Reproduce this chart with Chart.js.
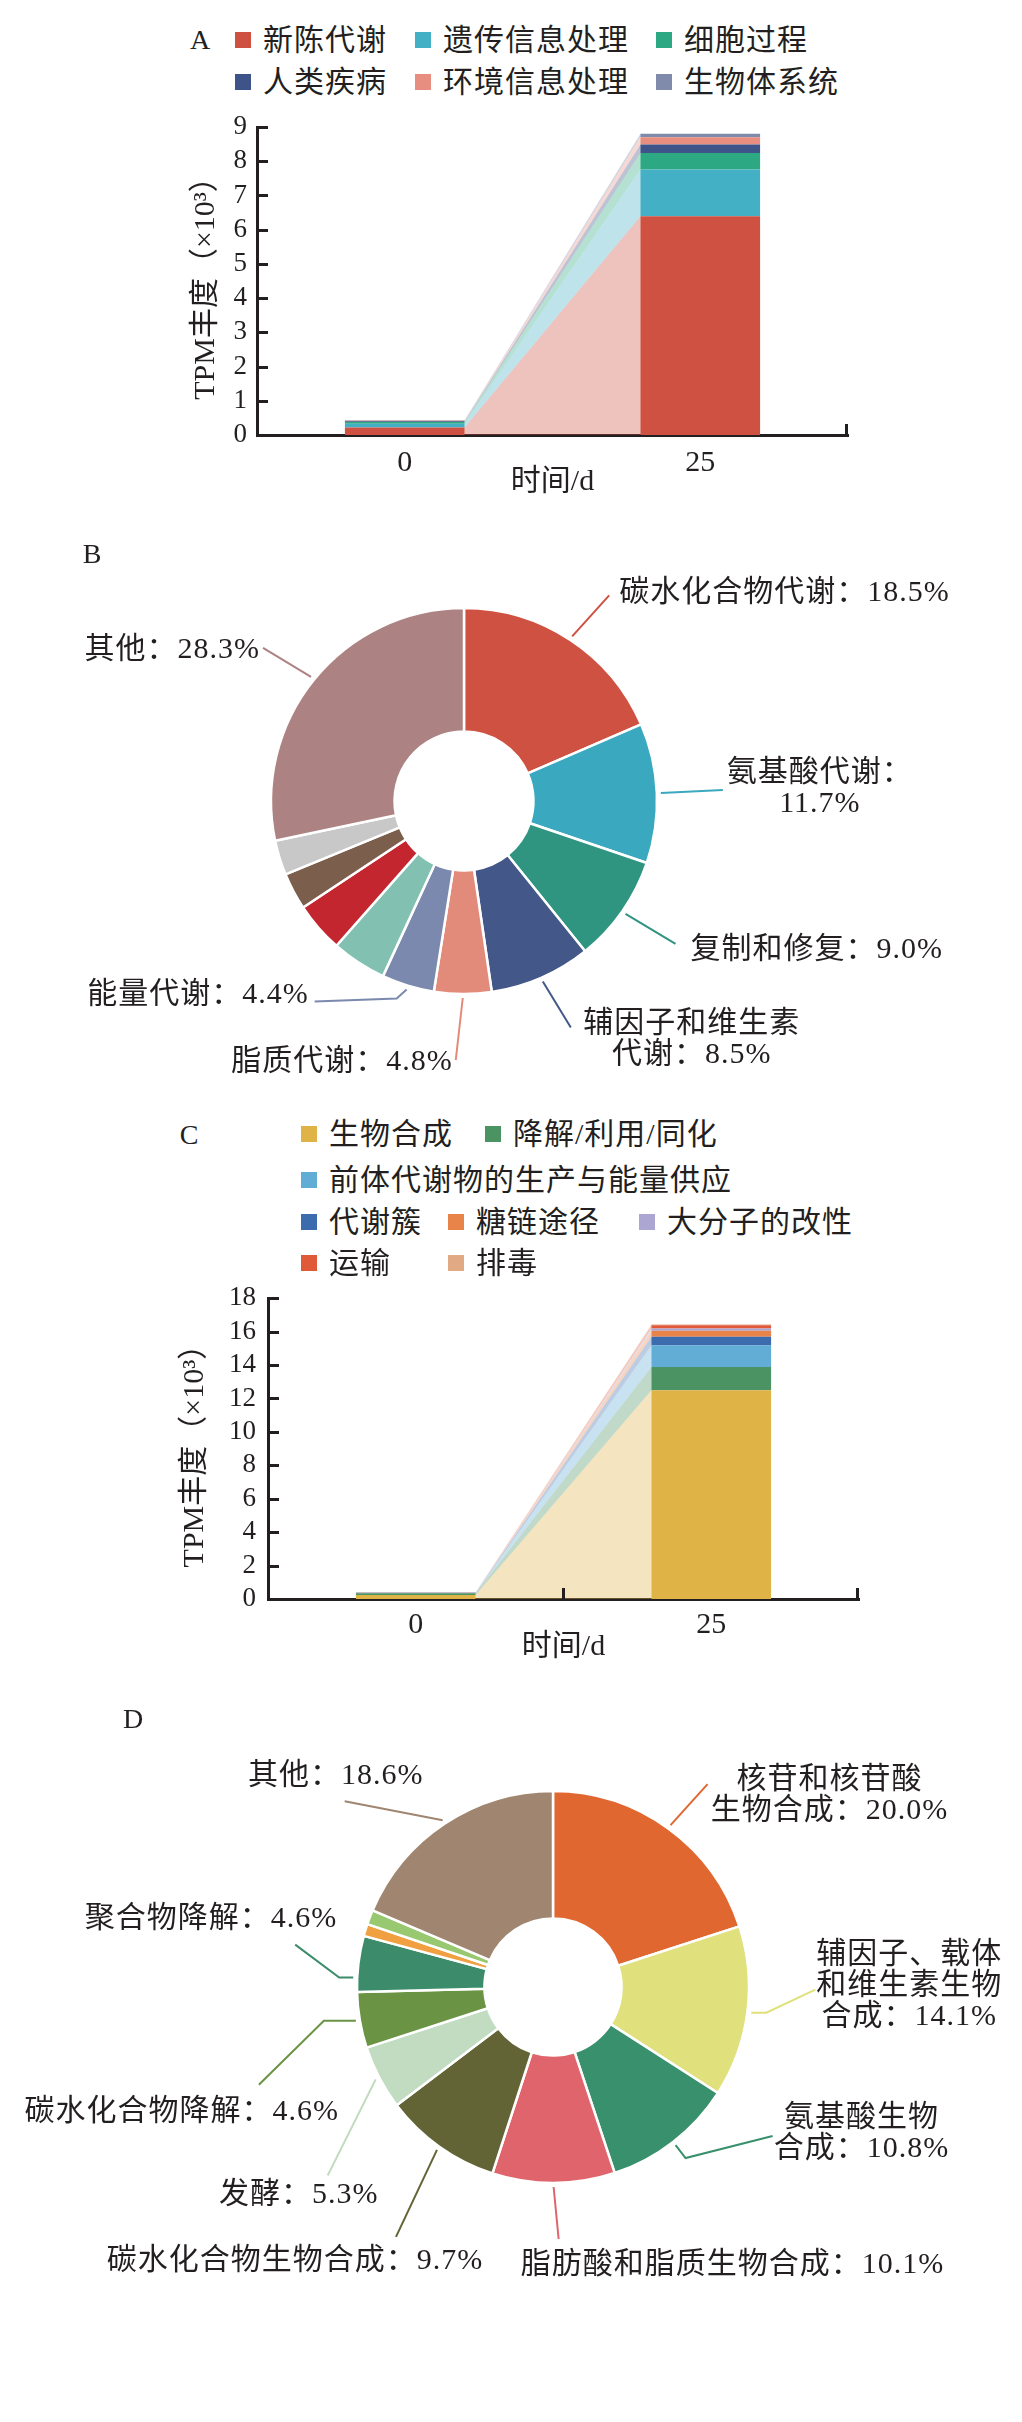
<!DOCTYPE html>
<html>
<head>
<meta charset="utf-8">
<script src="https://cdn.jsdelivr.net/npm/chart.js@4.4.1/dist/chart.umd.min.js"></script>
<style>
  body { margin: 0; background: #fff; }
  #page { position: relative; width: 1022px; height: 2422px; overflow: hidden;
          font-family: "Liberation Serif", "Noto Sans CJK SC", serif; color: #231f20; }
  canvas { position: absolute; left: 0; }
  .tag { position: absolute; font-size: 28px; line-height: 1; transform: translate(-50%, -50%); }
  .key { position: absolute; font-size: 30px; line-height: 1; letter-spacing: 1px; white-space: nowrap;
         transform: translateY(-50%); display: flex; align-items: center; }
  .key i { display: inline-block; width: 16px; height: 16px; margin-right: 12px; }
</style>
</head>
<body>
<div id="page">
  <canvas id="chartA" width="1022" height="420" style="top:100px"></canvas>
  <canvas id="chartB" width="1022" height="560" style="top:540px"></canvas>
  <canvas id="chartC" width="1022" height="410" style="top:1270px"></canvas>
  <canvas id="chartD" width="1022" height="570" style="top:1730px"></canvas>
</div>
<script>
// ---- data ----
const days = ['0', '25'];

// panel A: KEGG level 1, TPM (x10^3)
const namesA = ['新陈代谢', '遗传信息处理', '细胞过程', '人类疾病', '环境信息处理', '生物体系统'];
const metabolismA = [0.22, 6.39];
const geneticA = [0.11, 1.37];
const cellularA = [0.05, 0.48];
const diseaseA = [0.02, 0.25];
const environA = [0.02, 0.21];
const organismA = [0.01, 0.10];
const ticksA = [0, 1, 2, 3, 4, 5, 6, 7, 8, 9];
const colorsA = ['#cf5141', '#44b0c6', '#2ca882', '#3e5488', '#e88e80', '#808aaa'];

// panel B: share of metabolism categories (%)
const namesB = ['碳水化合物代谢', '氨基酸代谢', '复制和修复', '辅因子和维生素代谢', '脂质代谢', '能量代谢',
                '', '', '', '', '其他'];
const valuesB = [18.5, 11.7, 9.0, 8.5, 4.8, 4.4, 4.6, 4.2, 3.1, 2.9, 28.3];
const colorsB = ['#cf5141', '#3aa8bf', '#2f9580', '#435888', '#e38b7b', '#7a89ad',
                 '#82c1b2', '#c4262f', '#7b5f4c', '#c8c8c8', '#ad8282'];

// panel C: MetaCyc level 1, TPM (x10^3)
const namesC = ['生物合成', '降解/利用/同化', '前体代谢物的生产与能量供应', '代谢簇', '糖链途径', '大分子的改性', '运输', '排毒'];
const biosynC = [0.24, 12.49];
const degradC = [0.10, 1.40];
const precursorC = [0.02, 1.29];
const clusterC = [0.01, 0.52];
const glycanC = [0.005, 0.35];
const macroC = [0.005, 0.14];
const transportC = [0.005, 0.19];
const detoxC = [0.003, 0.05];
const ticksC = [0, 2, 4, 6, 8, 10, 12, 14, 16, 18];
const colorsC = ['#e0b347', '#4b9363', '#62add6', '#3d6cae', '#e8834a', '#aca7d2', '#e05a3a', '#e2a985'];

// panel D: share of MetaCyc pathways (%)
const namesD = ['核苷和核苷酸生物合成', '辅因子、载体和维生素生物合成', '氨基酸生物合成', '脂肪酸和脂质生物合成',
                '碳水化合物生物合成', '发酵', '碳水化合物降解', '聚合物降解', '', '', '其他'];
const valuesD = [20.0, 14.1, 10.8, 10.1, 9.7, 5.3, 4.6, 4.6, 1.0, 1.2, 18.6];
const colorsD = ['#e06830', '#e0e07c', '#38906c', '#e0646c', '#636436', '#c2dcc2',
                 '#6a9444', '#3c8c6c', '#f0a040', '#98c870', '#a08670'];

// ---- helpers ----
const ink = '#231f20';
const serif = '"Liberation Serif", "Noto Sans CJK SC", serif';
const page = document.getElementById('page');

function tint(hex, a) {
  const n = parseInt(hex.slice(1), 16);
  return `rgba(${n >> 16},${(n >> 8) & 255},${n & 255},${a})`;
}

function addTag(text, x, y) {
  const d = document.createElement('div');
  d.className = 'tag';
  d.textContent = text;
  d.style.left = x + 'px';
  d.style.top = y + 'px';
  page.appendChild(d);
}

function addKey(text, color, x, y) {
  const d = document.createElement('div');
  d.className = 'key';
  d.style.left = x + 'px';
  d.style.top = y + 'px';
  d.innerHTML = `<i style="background:${color}"></i><span></span>`;
  d.querySelector('span').textContent = text;
  page.appendChild(d);
}

// pale band joining the two stacked bars, one per series
const bridgePlugin = {
  id: 'bridge',
  beforeDatasetsDraw(chart) {
    const ctx = chart.ctx;
    chart.data.datasets.forEach((ds, i) => {
      const [a, b] = chart.getDatasetMeta(i).data;
      const p = a.getProps(['x', 'y', 'base', 'width'], true);
      const q = b.getProps(['x', 'y', 'base', 'width'], true);
      ctx.save();
      ctx.fillStyle = ds.bridge;
      ctx.beginPath();
      ctx.moveTo(p.x + p.width / 2, p.y);
      ctx.lineTo(q.x - q.width / 2, q.y);
      ctx.lineTo(q.x - q.width / 2, q.base);
      ctx.lineTo(p.x + p.width / 2, p.base);
      ctx.closePath();
      ctx.fill();
      ctx.restore();
    });
  }
};

// inward tick marks on y, end tick (and middle tick) on x
function axisMarks(midTick) {
  return {
    id: 'axisMarks',
    afterDraw(chart) {
      const { ctx, chartArea: ca, scales: { x, y } } = chart;
      ctx.save();
      ctx.strokeStyle = ink;
      ctx.lineWidth = 3;
      ctx.beginPath();
      y.ticks.forEach(t => {
        const py = Math.round(y.getPixelForValue(t.value)) + 0.5;
        ctx.moveTo(ca.left, py);
        ctx.lineTo(ca.left + 11, py);
      });
      ctx.moveTo(ca.right - 1.5, ca.bottom);
      ctx.lineTo(ca.right - 1.5, ca.bottom - 11);
      if (midTick) {
        const mx = (x.getPixelForValue(0) + x.getPixelForValue(1)) / 2;
        ctx.moveTo(mx, ca.bottom);
        ctx.lineTo(mx, ca.bottom - 11);
      }
      ctx.stroke();
      ctx.restore();
    }
  };
}

function stackedBars(id, names, series, colors, ticks, cfg) {
  return new Chart(document.getElementById(id), {
    type: 'bar',
    data: {
      labels: days,
      datasets: names.map((n, i) => ({
        label: n, data: series[i], backgroundColor: colors[i], bridge: tint(colors[i], 0.35),
        borderWidth: 0, barPercentage: 0.405, categoryPercentage: 1
      }))
    },
    options: {
      responsive: false, animation: false,
      layout: { padding: cfg.pad },
      plugins: { legend: { display: false }, tooltip: { enabled: false } },
      scales: {
        x: {
          stacked: true,
          grid: { display: false, drawTicks: false },
          border: { display: true, color: ink, width: 3 },
          ticks: { color: ink, font: { family: serif, size: 30 }, padding: cfg.xPad, maxRotation: 0 },
          title: { display: true, text: '时间/d', color: ink, font: { family: serif, size: 30 }, padding: 0 },
          afterFit: s => { s.height = cfg.xH; }
        },
        y: {
          stacked: true, min: 0, max: ticks[ticks.length - 1],
          grid: { display: false, drawTicks: false },
          border: { display: true, color: ink, width: 3 },
          ticks: { color: ink, font: { family: serif, size: 27 }, padding: cfg.yPad, autoSkip: false },
          afterBuildTicks: s => { s.ticks = ticks.map(v => ({ value: v })); },
          title: { display: true, text: 'TPM丰度（×10³）', color: ink, font: { family: serif, size: 30 }, padding: 0 },
          afterFit: s => { s.width = cfg.yW; }
        }
      }
    },
    plugins: [bridgePlugin, axisMarks(cfg.midTick)]
  });
}

// leader lines and labels around a doughnut
function donutLabels(layout) {
  return {
    id: 'donutLabels',
    afterDatasetsDraw(chart) {
      const ctx = chart.ctx;
      const ds = chart.data.datasets[0];
      const arcs = chart.getDatasetMeta(0).data;
      ctx.save();
      layout.forEach(L => {
        const { x, y, startAngle, endAngle, outerRadius } =
          arcs[L.i].getProps(['x', 'y', 'startAngle', 'endAngle', 'outerRadius'], true);
        const a = startAngle + (endAngle - startAngle) * (L.frac ?? 0.5);
        const sx = x + Math.cos(a) * (outerRadius + 4);
        const sy = y + Math.sin(a) * (outerRadius + 4);
        ctx.strokeStyle = ds.backgroundColor[L.i];
        ctx.lineWidth = 2;
        ctx.beginPath();
        ctx.moveTo(sx, sy);
        L.path.forEach(([dx, dy]) => ctx.lineTo(sx + dx, sy + dy));
        ctx.stroke();

        const text = chart.data.labels[L.i] + '：' + ds.data[L.i].toFixed(1) + '%';
        const cuts = [0, ...(L.breaks || []), text.length];
        ctx.font = `30px ${serif}`;
        ctx.letterSpacing = '1px';
        ctx.fillStyle = ink;
        ctx.textAlign = L.align;
        ctx.textBaseline = 'middle';
        for (let k = 0; k < cuts.length - 1; k++) {
          ctx.fillText(text.slice(cuts[k], cuts[k + 1]), sx + L.tx, sy + L.ty + k * 31);
        }
      });
      ctx.restore();
    }
  };
}

function donut(id, names, values, colors, pad, radius, cutout, layout) {
  return new Chart(document.getElementById(id), {
    type: 'doughnut',
    data: {
      labels: names,
      datasets: [{ data: values, backgroundColor: colors, borderColor: '#fff', borderWidth: 2.5 }]
    },
    options: {
      responsive: false, animation: false,
      radius: radius, cutout: cutout,
      layout: { padding: pad },
      plugins: { legend: { display: false }, tooltip: { enabled: false } }
    },
    plugins: [donutLabels(layout)]
  });
}

// ---- panel A ----
addTag('A', 200, 40);
const keyPosA = [[235, 40], [415, 40], [656, 40], [235, 82], [415, 82], [656, 82]];
namesA.forEach((n, i) => addKey(n, colorsA[i], keyPosA[i][0], keyPosA[i][1]));
stackedBars('chartA', namesA, [metabolismA, geneticA, cellularA, diseaseA, environA, organismA], colorsA, ticksA,
  { pad: { left: 188, right: 174, top: 27, bottom: 20 }, yW: 69, xH: 65, xPad: 10, yPad: 10, midTick: false });

// ---- panel B ----
addTag('B', 92, 554);
const labelsB = [
  { i: 0, path: [[37, -41]], tx: 47, ty: -43, align: 'left' },
  { i: 1, path: [[62, -3]], tx: 159, ty: -20, align: 'center', breaks: [6] },
  { i: 2, path: [[50, 30]], tx: 65, ty: 36, align: 'left' },
  { i: 3, path: [[28, 46]], tx: 149, ty: 43, align: 'center', breaks: [7] },
  { i: 4, path: [[-7, 62]], tx: -10, ty: 64, align: 'right' },
  { i: 5, path: [[-10, 9], [-92, 12]], tx: -98, ty: 6, align: 'right' },
  { i: 10, path: [[-48, -29]], tx: -51, ty: -27, align: 'right' }
];
donut('chartB', namesB, valuesB, colorsB, { left: 264, right: 358, top: 61, bottom: 99 }, 193, '36%', labelsB);

// ---- panel C ----
addTag('C', 189, 1135);
const keyPosC = [[301, 1134], [485, 1134], [301, 1180], [301, 1222], [448, 1222], [639, 1222], [301, 1263], [448, 1263]];
namesC.forEach((n, i) => addKey(n, colorsC[i], keyPosC[i][0], keyPosC[i][1]));
stackedBars('chartC', namesC, [biosynC, degradC, precursorC, clusterC, glycanC, macroC, transportC, detoxC], colorsC, ticksC,
  { pad: { left: 177, right: 163, top: 21, bottom: 15 }, yW: 91, xH: 66, xPad: 8, yPad: 12, midTick: true });

// ---- panel D ----
addTag('D', 133, 1719);
const labelsD = [
  { i: 0, path: [[37, -41]], tx: 159, ty: -45, align: 'center', breaks: [6] },
  { i: 1, path: [[15, 0], [64, -23]], tx: 158, ty: -58, align: 'center', breaks: [6, 12] },
  { i: 2, path: [[10, 13], [97, -9]], tx: 186, ty: -27, align: 'center', breaks: [5] },
  { i: 3, path: [[5, 52]], tx: -33, ty: 78, align: 'left' },
  { i: 4, path: [[-41, 87]], tx: -142, ty: 111, align: 'center' },
  { i: 5, path: [[-48, 96]], tx: -77, ty: 116, align: 'center' },
  { i: 6, path: [[-32, 0], [-97, 64]], tx: -17, ty: 91, align: 'right' },
  { i: 7, frac: 0.25, path: [[-14, 0], [-58, -33]], tx: -16, ty: -58, align: 'right' },
  { i: 10, path: [[-98, -19]], tx: -107, ty: -44, align: 'center' }
];
donut('chartD', namesD, valuesD, colorsD, { left: 353, right: 269, top: 57, bottom: 113 }, 196, '35%', labelsD);
</script>
</body>
</html>
